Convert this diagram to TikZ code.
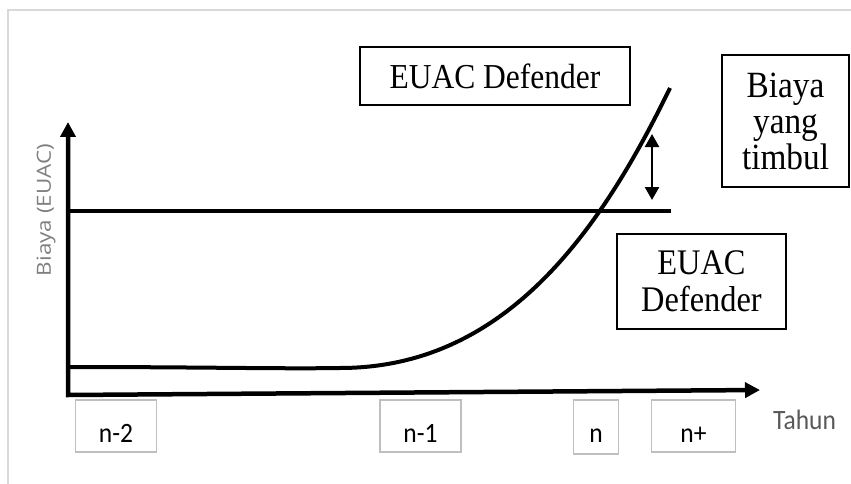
\documentclass[tikz,border=0pt]{standalone}
\usepackage{fontspec}
\usetikzlibrary{arrows.meta}
\newfontfamily\boxserif{Liberation Serif}[FakeStretch=0.9]
\newfontfamily\labsans{Carlito}[FakeStretch=0.91]
\newfontfamily\axsans{Open Sans}[FakeStretch=1.15]
\definecolor{framegray}{HTML}{D9D9D9}
\definecolor{lightbox}{HTML}{BFBFBF}
\definecolor{tahungray}{HTML}{595959}
\definecolor{axgray}{HTML}{7F7F7F}
\tikzset{
  bigbox/.style={draw=black, line width=2pt, inner sep=0pt, align=center,
    font=\boxserif\fontsize{35}{36}\selectfont},
  yearbox/.style={draw=lightbox, line width=1.5pt, inner sep=0pt,
    text height=32pt, text depth=0pt, minimum height=52pt,
    font=\labsans\fontsize{28}{30}\selectfont},
  axisline/.style={line width=4.5pt, line join=miter,
    arrows={Triangle[length=15pt,width=15pt]-Triangle[length=15pt,width=15pt]}},
  thickline/.style={line width=4pt},
  gapline/.style={line width=2.5pt,
    arrows={Triangle[length=13pt,width=14pt]-Triangle[length=13pt,width=14pt]}}
}
\begin{document}
\begin{tikzpicture}[x=1pt,y=-1pt]
\useasboundingbox (0,0) rectangle (851,484);
% outer frame
\draw[framegray, line width=2pt] (8,490) -- (8,10) -- (860,10);
% axes
\coordinate (ytip) at (68,122);
\coordinate (origin) at (68,395);
\coordinate (xtip) at (760,390);
\draw[axisline] (ytip) -- (origin) -- (xtip);
% EUAC defender level line
\coordinate (h0) at (68,211);
\coordinate (h1) at (671,211);
\draw[thickline] (h0) -- (h1);
% cost curve
\coordinate (c0) at (70,367);
\coordinate (c1) at (340,368);
\coordinate (c2) at (670,88);
\draw[thickline] (c0) .. controls (200,367) and (280,369) .. (c1)
  .. controls (505,368) and (600,232) .. (c2);
% gap arrow
\coordinate (da1) at (652,134);
\coordinate (da2) at (652,200);
\draw[gapline] (da1) -- (da2);
% boxes
\node[bigbox, minimum width=270pt, minimum height=58pt] (def1) at (495,76) {EUAC Defender};
\node[bigbox, minimum width=127pt, minimum height=131pt,
  font=\boxserif\fontsize{37}{36}\selectfont] (cost) at (785.5,121) {Biaya\\yang\\timbul};
\node[bigbox, minimum width=169pt, minimum height=95pt,
  font=\boxserif\fontsize{36}{37}\selectfont] (def2) at (701.5,281.5) {EUAC\\Defender};
% year boxes
\node[yearbox, minimum width=81pt] (n2) at (116,426) {n-2};
\node[yearbox, minimum width=81pt] (n1) at (420.5,426) {n-1};
\node[yearbox, minimum width=45pt, minimum height=54pt, text height=30pt] (n0) at (596,427) {n};
\node[yearbox, minimum width=84pt] (np) at (693.5,426) {n+};
% axis labels
\node[anchor=base west, inner sep=0pt, text=tahungray,
  font=\labsans\fontsize{28}{30}\selectfont] (tahun) at (773,429) {Tahun};
\node[rotate=90, inner sep=0pt, text=axgray,
  font=\axsans\fontsize{19.5}{24}\selectfont] (biaya) at (46,210) {Biaya (EUAC)};
\end{tikzpicture}
\end{document}
